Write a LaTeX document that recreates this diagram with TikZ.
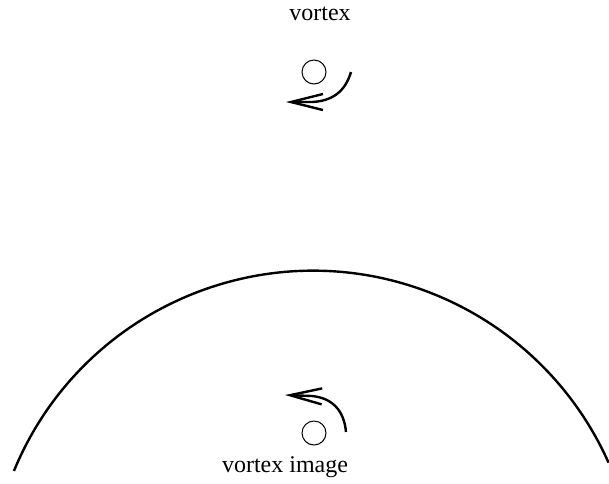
\documentclass[tikz,border=0pt]{standalone}
\usepackage{fontspec}
\setmainfont{Liberation Serif}
\usetikzlibrary{arrows.meta}

\tikzset{
    giro/.style={line width=1.2pt, -{Straight Barb[length=16pt, width=8pt, line width=1.2pt]}},
    nucleo/.style={circle, draw, line width=0.5pt, minimum size=12pt, inner sep=0pt},
    rotulo/.style={anchor=base, font=\fontsize{12}{14}\selectfont}
}

\begin{document}
\begin{tikzpicture}[
    % 1 unidade = 1 pixel da figura
    x=0.5pt, y=-0.5pt
]
    \useasboundingbox (0,0) rectangle (609,483);

    % ==========================================
    % 1. VORTICE (Em cima)
    % ==========================================
    \node[rotulo] (txtvortex) at (320,20.7) {vortex};
    \node[nucleo] (vortex) at (314,72) {};
    \draw[giro] (351,72) .. controls (345,92) and (332,101) .. (312,102) -- (286,102); % Sentido horario

    % ==========================================
    % 2. FRONTEIRA (Arco grande)
    % ==========================================
    % Eixo y invertido: angulos negativos ficam para cima
    \draw[line width=1.2pt] (313,594.2) ++(-157.6:323.5) arc[start angle=-157.6, end angle=-24, radius=323.5];

    % ==========================================
    % 3. IMAGEM DO VORTICE (Dentro do arco)
    % ==========================================
    \node[nucleo] (image) at (314,433) {};
    \draw[giro] (346,432) .. controls (344,410) and (332,398) .. (312,396) -- (285,395); % Sentido anti-horario
    \node[rotulo] (txtimage) at (285,472) {vortex image};

\end{tikzpicture}
\end{document}
